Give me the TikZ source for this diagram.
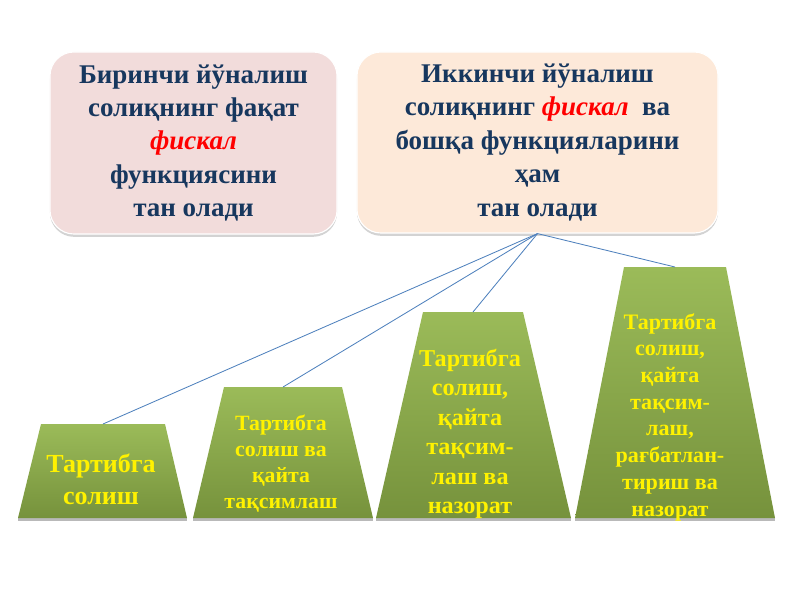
\documentclass[tikz,border=0pt]{standalone}
\usepackage{fontspec}
\setmainfont{Liberation Serif}
\usetikzlibrary{positioning,calc,shadows}

\definecolor{navytext}{HTML}{17375E}
\definecolor{pinkbox}{HTML}{F2DCDB}
\definecolor{peachbox}{HTML}{FDE9D9}
\definecolor{linkblue}{HTML}{4F81BD}
\definecolor{greentop}{HTML}{9BBB59}
\definecolor{greenbot}{HTML}{76923C}
\definecolor{fiscalred}{HTML}{FF0000}

\tikzset{
    topbox/.style={rounded corners=0.6cm, draw=white, line width=0.8pt,
        align=center, text=navytext, inner sep=0pt,
        font=\fontsize{19.2}{23.8}\selectfont\bfseries,
        drop shadow={shadow xshift=0pt, shadow yshift=-2pt, opacity=0.35, fill=gray}},
    link/.style={draw=linkblue, line width=0.6pt},
    steptext/.style={text=yellow, align=center, inner sep=0pt},
}

\newcommand{\fisk}{{\color{fiscalred}\itshape фискал}}

\begin{document}
\begin{tikzpicture}[x=0.025cm, y=-0.025cm]
    \useasboundingbox (0,0) rectangle (800,600);

    % two upper boxes
    \node[topbox, fill=pinkbox, minimum width=7.175cm, minimum height=4.55cm]
        (first) at (193.5,143) {Биринчи йўналиш\\солиқнинг фақат\\\fisk\\функциясини\\тан олади};
    \node[topbox, fill=peachbox, minimum width=9.025cm, minimum height=4.525cm]
        (second) at (537.5,142.5) {Иккинчи йўналиш\\солиқнинг \fisk{}\ \ ва\\бошқа функцияларини\\ҳам\\тан олади};

    % green steps
    \foreach \name/\tl/\tr/\ty/\bl/\br in {t1/41/165/424/18/187, t2/224/342/387/193/373,
        t3/423/523/312/376/571, t4/624/726/267/575/775} {
        \fill[gray!55] (\bl,517) rectangle (\br,521);
        \shade[top color=greentop, bottom color=greenbot]
            (\tl,\ty) -- (\tr,\ty) -- (\br,518) -- (\bl,518) -- cycle;
        \coordinate (\name) at ({(\tl+\tr)/2},\ty);
    }

    \node[steptext, font=\fontsize{18.5}{23}\selectfont\bfseries] (s1) at (101,479) {Тартибга\\солиш};
    \node[steptext, font=\fontsize{15.5}{18.5}\selectfont\bfseries] (s2) at (281,464) {Тартибга\\солиш ва\\қайта\\тақсимлаш};
    \node[steptext, font=\fontsize{17.2}{21}\selectfont\bfseries] (s3) at (470,434) {Тартибга\\солиш,\\қайта\\тақсим-\\лаш ва\\назорат};
    \node[steptext, font=\fontsize{15.7}{19}\selectfont\bfseries] (s4) at (670,417) {Тартибга\\солиш,\\қайта\\тақсим-\\лаш,\\рағбатлан-\\тириш ва\\назорат};

    % connectors
    \foreach \t in {t1,t2,t3,t4} {
        \draw[link] (second.south) -- (\t);
    }
\end{tikzpicture}
\end{document}
